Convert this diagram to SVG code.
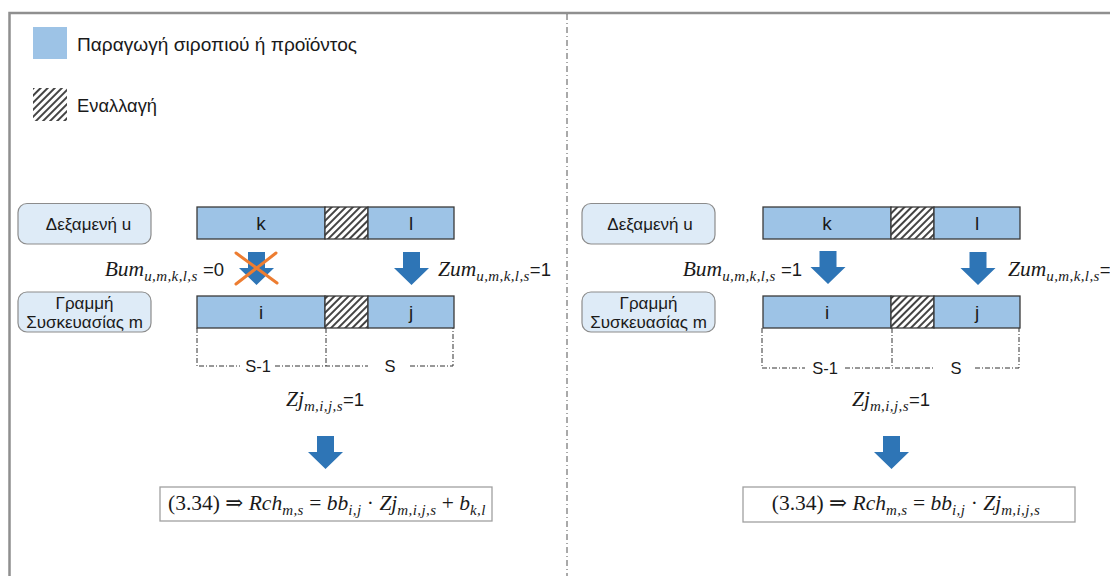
<svg xmlns="http://www.w3.org/2000/svg" xmlns:xlink="http://www.w3.org/1999/xlink" width="1110" height="576" viewBox="0 0 1110 576">
  <style>
    .sans { font-family: "Liberation Sans", "DejaVu Sans", sans-serif; fill: #1a1a1a; }
    .math { font-family: "Liberation Serif", "DejaVu Serif", serif; fill: #1a1a1a; font-size: 21.5px; }
    .it { font-style: italic; }
    .sub { font-size: 15px; font-style: italic; letter-spacing: 0.4px; }
    .bar { fill: #9DC3E6; stroke: #3a3a3a; stroke-width: 1.3; }
    .hatch { fill: url(#hatch); stroke: #3a3a3a; stroke-width: 1.3; }
    .label { fill: #DEEBF7; stroke: #8c8c8c; stroke-width: 1.2; }
    .arrow { fill: #2E75B6; }
    .bracket { fill: none; stroke: #333; stroke-width: 1; stroke-dasharray: 5 2 1 2; }
    .formula { fill: #fff; stroke: #a0a0a0; stroke-width: 1.3; }
    .cross { stroke: #ED7D31; stroke-width: 3; stroke-linecap: round; }
  </style>
  <defs>
    <pattern id="hatch" patternUnits="userSpaceOnUse" width="5" height="5" patternTransform="rotate(45)">
      <rect width="5" height="5" fill="#fff"/>
      <line x1="1" y1="0" x2="1" y2="5" stroke="#222" stroke-width="1.7"/>
    </pattern>
    <!-- block arrow pointing down, origin at top centre -->
    <path id="blockArrow" class="arrow" d="M-8.5,0 H8.5 V16 H17.5 L0,33 L-17.5,16 H-8.5 Z"/>
  </defs>

  <rect width="1110" height="576" fill="#fff"/>

  <!-- frame and panel divider -->
  <g id="frame">
    <path d="M9.5,576 V13 H1110" fill="none" stroke="#8f8f8f" stroke-width="2.5"/>
    <line x1="567" y1="14" x2="567" y2="576" stroke="#555" stroke-width="1" stroke-dasharray="6 3 1 3"/>
  </g>

  <!-- legend -->
  <g id="legend">
    <rect x="33" y="27" width="34" height="32" fill="#9DC3E6"/>
    <text class="sans" x="77" y="51" font-size="19" textLength="280" lengthAdjust="spacingAndGlyphs">Παραγωγή σιροπιού ή προϊόντος</text>
    <rect x="33" y="88" width="34" height="33" fill="url(#hatch)"/>
    <text class="sans" x="77" y="112" font-size="19" textLength="80" lengthAdjust="spacingAndGlyphs">Εναλλαγή</text>
  </g>

  <!-- ===== left panel ===== -->
  <g id="left-tank-label">
    <rect class="label" x="18" y="203.5" width="133" height="40.5" rx="9"/>
    <text class="sans" x="88.5" y="230" font-size="17" text-anchor="middle">Δεξαμενή u</text>
  </g>
  <g id="left-line-label">
    <rect class="label" x="18" y="292" width="133" height="40" rx="9"/>
    <text class="sans" x="84.5" y="309" font-size="17" text-anchor="middle">Γραμμή</text>
    <text class="sans" x="84.5" y="328" font-size="17" text-anchor="middle">Συσκευασίας m</text>
  </g>
  <g id="left-tank-bar">
    <rect class="bar" x="197" y="207" width="128" height="32"/>
    <rect class="hatch" x="325" y="207" width="43" height="32"/>
    <rect class="bar" x="368" y="207" width="86" height="32"/>
    <text class="sans" x="261" y="230" font-size="19" text-anchor="middle">k</text>
    <text class="sans" x="411" y="230" font-size="19" text-anchor="middle">l</text>
  </g>
  <g id="left-line-bar">
    <rect class="bar" x="197" y="296" width="128" height="32"/>
    <rect class="hatch" x="325" y="296" width="43" height="32"/>
    <rect class="bar" x="368" y="296" width="86" height="32"/>
    <text class="sans" x="261" y="319" font-size="19" text-anchor="middle">i</text>
    <text class="sans" x="411" y="319" font-size="19" text-anchor="middle">j</text>
  </g>
  <g id="left-periods">
    <path class="bracket" d="M197,328 V366 H240 M275,366 H368 M410,366 H453 V328 M326,328 V366"/>
    <text class="sans" x="258" y="372" font-size="16.5" text-anchor="middle">S-1</text>
    <text class="sans" x="390" y="372" font-size="16.5" text-anchor="middle">S</text>
  </g>
  <g id="left-bum">
    <text class="math" x="224" y="276" text-anchor="end"><tspan class="it">Bum</tspan><tspan class="sub" dy="5">u,m,k,l,s</tspan><tspan class="sans" font-size="18.5" dy="-5"> =0</tspan></text>
  </g>
  <g id="left-zum">
    <text class="math" x="438" y="276"><tspan class="it">Zum</tspan><tspan class="sub" dy="5">u,m,k,l,s</tspan><tspan class="sans" font-size="18.5" dy="-5">=1</tspan></text>
  </g>
  <g id="left-zj">
    <text class="math" x="325" y="406" text-anchor="middle"><tspan class="it">Zj</tspan><tspan class="sub" dy="5">m,i,j,s</tspan><tspan class="sans" font-size="18.5" dy="-5">=1</tspan></text>
  </g>
  <g id="left-formula">
    <rect class="formula" x="160" y="487" width="332" height="34"/>
    <text class="math" x="168" y="510">(3.34) ⇒ <tspan class="it">Rch</tspan><tspan class="sub" dy="5">m,s</tspan><tspan dy="-5"> = </tspan><tspan class="it">bb</tspan><tspan class="sub" dy="5">i,j</tspan><tspan dy="-5"> · </tspan><tspan class="it">Zj</tspan><tspan class="sub" dy="5">m,i,j,s</tspan><tspan dy="-5"> + </tspan><tspan class="it">b</tspan><tspan class="sub" dy="5">k,l</tspan></text>
  </g>

  <!-- ===== right panel ===== -->
  <g id="right-tank-label">
    <rect class="label" x="582" y="203.5" width="133" height="40.5" rx="9"/>
    <text class="sans" x="650" y="230" font-size="17" text-anchor="middle">Δεξαμενή u</text>
  </g>
  <g id="right-line-label">
    <rect class="label" x="582" y="292" width="133" height="40" rx="9"/>
    <text class="sans" x="648.5" y="309" font-size="17" text-anchor="middle">Γραμμή</text>
    <text class="sans" x="648.5" y="328" font-size="17" text-anchor="middle">Συσκευασίας m</text>
  </g>
  <g id="right-tank-bar">
    <rect class="bar" x="763" y="207" width="128" height="32"/>
    <rect class="hatch" x="891" y="207" width="43" height="32"/>
    <rect class="bar" x="934" y="207" width="86" height="32"/>
    <text class="sans" x="827" y="230" font-size="19" text-anchor="middle">k</text>
    <text class="sans" x="977" y="230" font-size="19" text-anchor="middle">l</text>
  </g>
  <g id="right-line-bar">
    <rect class="bar" x="763" y="296" width="128" height="32"/>
    <rect class="hatch" x="891" y="296" width="43" height="32"/>
    <rect class="bar" x="934" y="296" width="86" height="32"/>
    <text class="sans" x="827" y="319" font-size="19" text-anchor="middle">i</text>
    <text class="sans" x="977" y="319" font-size="19" text-anchor="middle">j</text>
  </g>
  <g id="right-periods">
    <path class="bracket" d="M762,328 V368 H805 M845,368 H934 M975,368 H1019 V328 M892,328 V368"/>
    <text class="sans" x="825" y="374" font-size="16.5" text-anchor="middle">S-1</text>
    <text class="sans" x="956" y="374" font-size="16.5" text-anchor="middle">S</text>
  </g>
  <g id="right-bum">
    <text class="math" x="802" y="276" text-anchor="end"><tspan class="it">Bum</tspan><tspan class="sub" dy="5">u,m,k,l,s</tspan><tspan class="sans" font-size="18.5" dy="-5"> =1</tspan></text>
  </g>
  <g id="right-zum">
    <text class="math" x="1008" y="276"><tspan class="it">Zum</tspan><tspan class="sub" dy="5">u,m,k,l,s</tspan><tspan class="sans" font-size="18.5" dy="-5">=1</tspan></text>
  </g>
  <g id="right-zj">
    <text class="math" x="891" y="406" text-anchor="middle"><tspan class="it">Zj</tspan><tspan class="sub" dy="5">m,i,j,s</tspan><tspan class="sans" font-size="18.5" dy="-5">=1</tspan></text>
  </g>
  <g id="right-formula">
    <rect class="formula" x="743" y="487" width="332" height="35"/>
    <text class="math" x="906" y="510" text-anchor="middle">(3.34) ⇒ <tspan class="it">Rch</tspan><tspan class="sub" dy="5">m,s</tspan><tspan dy="-5"> = </tspan><tspan class="it">bb</tspan><tspan class="sub" dy="5">i,j</tspan><tspan dy="-5"> · </tspan><tspan class="it">Zj</tspan><tspan class="sub" dy="5">m,i,j,s</tspan></text>
  </g>

  <!-- connectors: block arrows between the bars and towards the formulas -->
  <g id="connectors">
    <use xlink:href="#blockArrow" x="256.5" y="252"/>
    <g id="blocked-transfer" class="cross">
      <line x1="236" y1="253" x2="277" y2="283"/>
      <line x1="276" y1="253" x2="236" y2="284"/>
    </g>
    <use xlink:href="#blockArrow" x="411.5" y="252"/>
    <use xlink:href="#blockArrow" x="325.5" y="436"/>
    <use xlink:href="#blockArrow" x="828" y="251"/>
    <use xlink:href="#blockArrow" x="978" y="252"/>
    <use xlink:href="#blockArrow" x="891.5" y="436"/>
  </g>
</svg>
